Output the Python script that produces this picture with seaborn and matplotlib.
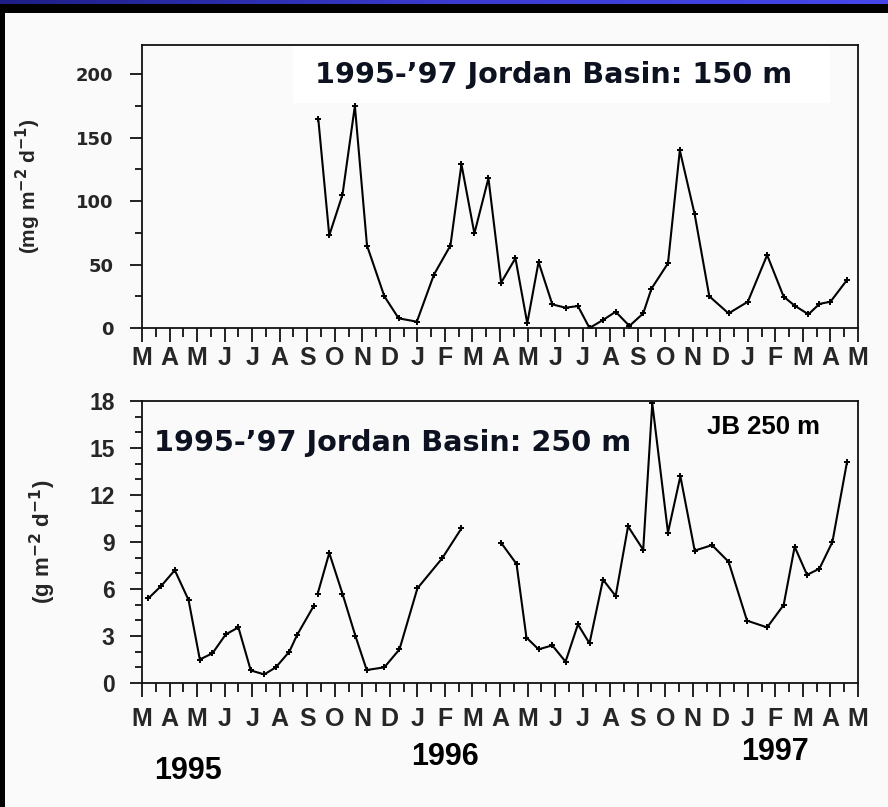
import numpy as np
import pandas as pd
import matplotlib
matplotlib.use("Agg")
import matplotlib.pyplot as plt
import seaborn as sns
from matplotlib import font_manager as fm
from matplotlib.patches import Rectangle
from matplotlib.colors import LinearSegmentedColormap

# ---------------- data ----------------
month_labels = ['M', 'A', 'M', 'J', 'J', 'A', 'S', 'O', 'N', 'D', 'J', 'F', 'M',
                'A', 'M', 'J', 'J', 'A', 'S', 'O', 'N', 'D', 'J', 'F', 'M', 'A', 'M']
year_labels = ['1995', '1996', '1997']

# sample time in months since 1 March 1995
top_t = [6.4, 6.8, 7.28, 7.73, 8.17, 8.8, 9.32, 9.98, 10.6, 11.2, 11.6, 12.07, 12.58,
         13.04, 13.56, 13.99, 14.4, 14.9, 15.38, 15.83, 16.25, 16.74, 17.2, 17.7, 18.2,
         18.5, 19.1, 19.53, 20.07, 20.6, 21.3, 22.0, 22.7, 23.3, 23.7, 24.2, 24.6, 25.0, 25.6]
# flux at 150 m (mg m-2 d-1)
top_v = [165, 73, 105, 175, 65, 25, 7.6, 5, 42, 65, 129, 74.5, 118,
         35.7, 55, 3.7, 52, 18.6, 16, 17.3, 0, 6.3, 12.8, 1.6, 11.5,
         31, 51, 140, 89.5, 25, 11.5, 20.7, 57.5, 24.7, 17.6, 10.8, 19, 20.7, 37.8]

bot_t = [0.23, 0.7, 1.19, 1.69, 2.1, 2.56, 3.04, 3.5, 3.95, 4.44, 4.86, 5.35, 5.63, 6.23,
         np.nan,
         6.38, 6.8, 7.28, 7.75, 8.16, 8.8, 9.35, 10.0, 10.9, 11.6,
         np.nan,
         13.04, 13.6, 13.96, 14.4, 14.9, 15.38, 15.83, 16.25, 16.74, 17.2, 17.65, 18.2,
         18.53, 19.1, 19.55, 20.07, 20.7, 21.3, 21.97, 22.7, 23.3, 23.7, 24.15, 24.6,
         25.07, 25.6]
# flux at 250 m (g m-2 d-1)
bot_v = [5.4, 6.2, 7.2, 5.3, 1.5, 1.9, 3.1, 3.55, 0.8, 0.55, 1.0, 2.0, 3.06, 4.9,
         np.nan,
         5.7, 8.3, 5.7, 3.0, 0.83, 1.0, 2.15, 6.04, 7.96, 9.87,
         np.nan,
         8.95, 7.6, 2.9, 2.15, 2.4, 1.36, 3.74, 2.53, 6.6, 5.55, 10.0, 8.5,
         17.85, 9.6, 13.2, 8.45, 8.8, 7.74, 3.98, 3.55, 4.98, 8.7, 6.9, 7.3,
         9.0, 14.1]


def make_df(t, v):
    df = pd.DataFrame({'t': t, 'v': v})
    df['seg'] = df['v'].isna().cumsum()
    return df.dropna()


df_top = make_df(top_t, top_v)
df_bot = make_df(bot_t, bot_v)

# ---------------- fonts ----------------
def pick(*names):
    for n in names:
        try:
            fm.findfont(fm.FontProperties(family=n), fallback_to_default=False)
            return n
        except Exception:
            continue
    return 'DejaVu Sans'


ARIAL = pick('Liberation Sans', 'DejaVu Sans')

sns.set_style('ticks')
plt.rcParams['font.family'] = ['DejaVu Sans']

W, H = 888, 807
fig = plt.figure(figsize=(W / 100, H / 100), dpi=100, facecolor='#fafafa')


def fx(px):
    return px / W


def fy(py):
    return 1 - py / H


# outer frame: black left/top border and blue band
fig.patches.append(Rectangle((0, 0), fx(5), 1, transform=fig.transFigure,
                             facecolor='black', edgecolor='none', zorder=0))
fig.patches.append(Rectangle((0, fy(13)), 1, 9 / H, transform=fig.transFigure,
                             facecolor='black', edgecolor='none', zorder=0))
band = fig.add_axes([0, fy(4.5), 1, 4.5 / H], zorder=5)
grad = np.linspace(0, 1, 256)[None, :]
cm = LinearSegmentedColormap.from_list('band', ['#1e1e86', '#3a3ad0', '#4646ea'])
band.imshow(grad, aspect='auto', cmap=cm, extent=[0, 1, 0, 1])
band.set_axis_off()

ax1 = fig.add_axes([fx(142), fy(328), fx(858) - fx(142), fy(45) - fy(328)])
ax2 = fig.add_axes([fx(142), fy(683), fx(858) - fx(142), fy(401) - fy(683)])

for ax, df in ((ax1, df_top), (ax2, df_bot)):
    ax.set_facecolor('#fafafa')
    sns.lineplot(data=df, x='t', y='v', units='seg', estimator=None, sort=False,
                 color='black', linewidth=1.5, marker='+', markersize=5,
                 markeredgewidth=1.4, markeredgecolor='black', ax=ax, legend=False)
    ax.set_xlim(0, 26)
    ax.set_xticks(np.arange(len(month_labels)))
    ax.set_xticks(np.arange(len(month_labels) - 1) + 0.5, minor=True)
    ax.set_xticklabels(month_labels)
    ax.set_xlabel('')
    ax.set_ylabel('')
    for s in ax.spines.values():
        s.set_visible(True)
        s.set_linewidth(1.3)
        s.set_color('#111111')
    ax.tick_params(axis='x', which='major', direction='out', length=10, width=1.3,
                   color='#111111')
    ax.tick_params(axis='x', which='minor', direction='out', length=6.5, width=1.3,
                   color='#111111')
    ax.tick_params(axis='y', which='major', direction='out', length=8.6, width=1.3,
                   color='#111111')
    ax.tick_params(axis='y', which='minor', direction='out', length=5, width=1.3,
                   color='#111111')
    for lbl in ax.get_xticklabels():
        lbl.set_fontfamily(ARIAL)
        lbl.set_fontweight('bold')
        lbl.set_fontsize(18)

ax1.tick_params(axis='x', which='major', pad=3)
ax2.tick_params(axis='x', which='major', pad=7)

ax1.set_ylim(0, 223)
ax1.set_yticks([0, 50, 100, 150, 200])
ax1.set_yticks(np.arange(25, 223, 50), minor=True)
ax1.tick_params(axis='y', which='major', pad=12)
for lbl in ax1.get_yticklabels():
    lbl.set_fontfamily('DejaVu Sans')
    lbl.set_fontweight('bold')
    lbl.set_fontsize(13)

ax2.set_ylim(0, 18)
ax2.set_yticks(np.arange(0, 19, 3))
ax2.set_yticks(np.arange(0, 19, 1), minor=True)
ax2.tick_params(axis='y', which='major', pad=11)
for lbl in ax2.get_yticklabels():
    lbl.set_fontfamily(ARIAL)
    lbl.set_fontweight('bold')
    lbl.set_fontsize(16.5)

# y axis titles
ax1.text((28 - 142) / 716, 0.5, r'(mg m$^{\mathbf{-2}}$ d$^{\mathbf{-1}}$)',
         transform=ax1.transAxes, rotation=90, ha='center', va='center',
         fontsize=15, fontweight='bold', family=ARIAL)
ax2.text((43 - 142) / 716, 0.5, r'(g m$^{\mathbf{-2}}$ d$^{\mathbf{-1}}$)',
         transform=ax2.transAxes, rotation=90, ha='center', va='center',
         fontsize=16, fontweight='bold', family=ARIAL)

# titles
ax1.add_patch(Rectangle(((293 - 142) / 716, (328 - 103) / 283), (830 - 293) / 716,
                        (103 - 46) / 283, transform=ax1.transAxes, facecolor='white',
                        edgecolor='none', zorder=3))
ax1.text((554 - 142) / 716, (328 - 75) / 283, '1995-\u201997 Jordan Basin: 150 m',
         transform=ax1.transAxes, ha='center', va='center', fontsize=20.7,
         fontweight='bold', color='#0d1220', family='DejaVu Sans', zorder=4)
ax2.text((393 - 142) / 716, (683 - 443) / 282, '1995-\u201997 Jordan Basin: 250 m',
         transform=ax2.transAxes, ha='center', va='center', fontsize=20.7,
         fontweight='bold', color='#0d1220', family='DejaVu Sans', zorder=4)
ax2.text((763 - 142) / 716, (683 - 427) / 282, 'JB 250 m',
         transform=ax2.transAxes, ha='center', va='center', fontsize=18.5,
         fontweight='bold', color='black', family=ARIAL, zorder=4)

# year labels
for lab, (px, py) in zip(year_labels, [(188, 771), (445, 757), (775, 752)]):
    fig.text(fx(px), fy(py), lab, ha='center', va='center', fontsize=22,
             fontweight='bold', family=ARIAL, color='black')

fig.savefig('out.png', dpi=100, facecolor=fig.get_facecolor())
